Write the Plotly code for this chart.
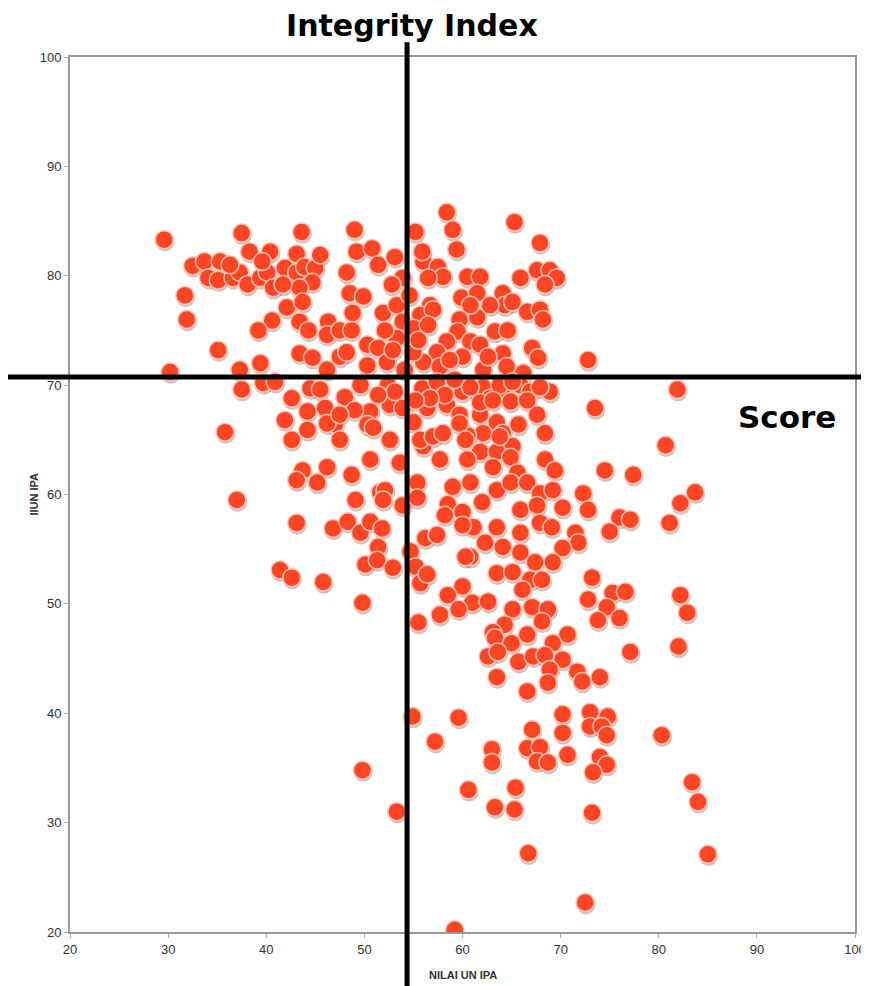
import plotly.graph_objects as go

# NILAI UN IPA (x) and IIUN IPA (y)
nilai_un_ipa = [
    29.6, 37.5, 43.6, 49.0, 38.3, 40.4, 43.1, 32.5, 33.7, 35.3, 34.1, 35.1, 36.6, 37.3, 38.1, 39.4,
    40.1, 40.7, 41.9, 43.1, 43.9, 45.0, 44.7, 43.4, 49.2, 50.8, 48.2, 51.4, 53.1, 31.7, 31.9, 42.1,
    43.7, 48.5, 49.9, 48.8, 51.9, 40.6, 39.2, 43.4, 44.3, 46.3, 46.2, 47.5, 48.7, 53.3, 53.9, 35.1,
    43.4, 44.7, 47.5, 48.2, 50.3, 51.4, 50.3, 52.3, 53.3, 46.2, 39.4, 30.2, 37.3, 37.5, 39.7, 40.9,
    42.6, 44.5, 44.2, 46.0, 48.0, 41.9, 47.0, 50.6, 52.6, 50.3, 52.4, 53.9,
    58.4, 65.3, 55.2, 59.0, 59.4, 67.9, 56.0, 55.9, 57.5, 58.0, 56.5, 60.5, 61.8, 65.9, 67.6, 68.9,
    69.6, 68.4, 59.9, 61.5, 64.1, 64.3, 65.1, 66.6, 67.9, 68.2, 56.7, 55.7, 57.0, 59.7, 61.5, 59.5,
    58.4, 60.8, 61.8, 63.3, 64.6, 64.1, 67.1, 67.7, 72.8, 60.0, 57.4, 56.0, 57.7, 62.1, 64.5, 66.2,
    55.0, 55.0, 54.6, 53.9, 55.9, 57.4, 60.0, 62.1, 62.8, 64.1, 65.9, 66.9, 68.9, 67.6, 65.7, 73.5,
    81.9, 58.4, 59.7, 61.8, 63.5, 56.4, 55.0, 60.8, 63.8, 65.1, 67.9, 61.8, 63.1, 64.9, 66.6, 64.1,
    62.1, 60.5, 68.4, 65.1, 61.8, 63.5, 60.5, 63.8, 80.7, 74.5, 77.4, 83.7, 82.2, 81.1, 72.3, 72.8,
    76.0, 77.1, 75.0, 71.5, 71.8, 70.2, 69.2, 73.2, 72.8, 75.3, 76.6, 74.7, 76.0, 73.8, 82.2, 82.9,
    68.4, 69.4, 64.9, 65.6, 63.1, 60.8, 62.0, 63.5, 64.9, 66.6, 67.9, 69.2, 70.2, 65.9, 67.6, 67.9,
    69.1, 65.9, 61.1, 62.3, 63.5, 64.1, 65.9, 67.4, 60.8, 63.5, 65.1, 66.9, 66.1, 68.1, 61.0, 62.6,
    65.1, 67.1, 68.7, 68.1, 64.3, 63.1, 66.6, 70.7, 60.0, 55.5, 63.3, 65.0, 69.2, 62.6, 63.6, 65.7,
    67.2, 68.4, 70.2, 68.9, 68.7, 71.7, 72.2, 74.0, 63.5, 66.6, 77.1, 82.0, 54.9, 59.6, 57.2, 63.0,
    63.0, 67.1, 66.6, 67.9, 67.6, 68.7, 70.2, 70.2, 70.7, 73.0, 73.0, 74.8, 74.2, 74.7, 74.0, 74.7,
    73.3, 80.3, 49.8, 60.6, 65.4, 63.3, 65.3, 73.2, 83.4, 84.0, 53.3, 66.7, 85.0, 72.5, 59.2,
    35.8, 44.2, 46.2, 42.6, 47.5, 50.9, 52.6, 50.6, 53.6, 43.7, 43.1, 45.2, 46.2, 48.7, 51.6, 52.1,
    51.9, 49.1, 53.9, 55.4, 55.4, 37.0, 43.1, 46.8, 48.3, 49.6, 50.6, 51.8, 51.4, 50.1, 51.3, 52.9,
    54.7, 55.2, 56.2, 57.4, 55.7, 56.4, 41.4, 42.6, 45.8, 49.8, 57.7, 58.5, 59.6, 59.0, 58.5, 58.2,
    60.0, 60.0, 60.3, 57.7, 56.0, 55.7, 57.0, 58.0, 59.7, 60.3,
    52.8, 52.1, 52.9, 54.1, 55.5, 56.5, 58.7, 59.2, 58.2, 56.7, 55.2, 53.1, 51.4, 49.6, 49.0, 47.5,
    45.5, 62.6, 60.8, 62.8, 39.6, 41.7, 36.3, 45.5,
]

iiun_ipa = [
    83.3, 83.9, 84.0, 84.2, 82.2, 82.2, 82.0, 80.9, 81.3, 81.3, 79.8, 79.6, 79.8, 80.3, 79.2, 79.8,
    80.3, 78.9, 80.7, 80.3, 80.8, 80.7, 79.4, 78.9, 82.2, 82.5, 80.3, 81.0, 81.7, 78.2, 76.0, 77.1,
    77.6, 78.4, 78.1, 76.6, 76.6, 75.9, 75.0, 75.8, 75.0, 75.8, 74.6, 75.0, 75.0, 77.3, 75.8, 73.2,
    72.9, 72.5, 72.6, 73.0, 73.7, 73.4, 71.8, 72.1, 74.3, 71.4, 72.0, 71.2, 71.4, 69.6, 70.2, 70.3,
    68.8, 69.7, 67.6, 67.9, 68.9, 66.8, 66.4, 67.6, 68.2, 66.4, 70.0, 67.9,
    85.8, 84.9, 84.0, 84.2, 82.4, 83.0, 81.3, 82.2, 80.8, 79.9, 79.8, 79.9, 79.9, 79.8, 80.5, 80.5,
    79.8, 79.2, 78.0, 78.4, 78.4, 77.3, 77.6, 76.7, 76.9, 76.0, 77.3, 76.4, 76.9, 76.0, 76.2, 74.9,
    74.0, 74.0, 73.7, 74.9, 75.0, 72.9, 73.4, 72.5, 72.3, 72.6, 73.0, 72.1, 71.7, 71.4, 71.7, 71.1,
    73.0, 75.2, 78.2, 79.8, 69.7, 70.3, 69.4, 69.8, 68.8, 69.7, 70.0, 69.4, 69.4, 67.3, 66.4, 67.9,
    69.6, 68.2, 67.3, 67.3, 66.6, 67.9, 66.6, 69.8, 70.0, 70.3, 69.8, 68.4, 68.6, 68.5, 68.6, 65.6,
    65.6, 65.4, 65.6, 64.4, 63.9, 63.9, 63.2, 65.3, 64.5, 62.2, 61.8, 60.2, 59.2, 57.4, 60.1, 58.6,
    57.9, 57.7, 56.6, 56.5, 55.6, 55.1, 53.8, 52.4, 50.4, 51.0, 51.1, 49.7, 48.7, 48.5, 50.8, 49.2,
    63.2, 62.2, 63.4, 62.0, 62.5, 61.1, 59.3, 60.4, 61.1, 61.1, 60.1, 60.4, 58.8, 58.6, 59.0, 57.4,
    57.0, 56.5, 57.0, 55.6, 57.0, 55.2, 54.7, 53.8, 54.3, 52.8, 52.9, 52.2, 51.3, 52.2, 50.1, 50.2,
    49.5, 49.7, 49.5, 48.4, 48.1, 47.4, 47.2, 47.2, 51.6, 48.3, 46.9, 46.4, 46.4, 45.2, 45.6, 44.7,
    45.2, 45.3, 44.9, 44.0, 42.8, 43.8, 42.9, 43.3, 43.3, 42.0, 45.6, 46.1, 39.7, 39.6, 37.4, 36.7,
    35.5, 38.5, 36.8, 36.9, 35.6, 35.5, 39.9, 38.2, 36.2, 40.1, 38.8, 39.7, 38.8, 38.0, 36.0, 35.3,
    34.6, 38.0, 34.8, 33.0, 33.2, 31.4, 31.2, 30.9, 33.7, 31.9, 31.0, 27.2, 27.1, 22.7, 20.2,
    65.7, 65.9, 66.5, 65.0, 65.0, 66.1, 65.0, 63.2, 62.9, 62.2, 61.3, 61.1, 62.5, 61.8, 60.2, 60.4,
    59.5, 59.5, 59.0, 61.1, 59.7, 59.5, 57.4, 56.9, 57.5, 56.5, 57.5, 56.9, 55.2, 53.6, 54.0, 53.3,
    54.8, 53.4, 56.0, 56.3, 51.9, 52.7, 53.1, 52.4, 52.0, 50.1, 49.0, 50.8, 49.5, 60.7, 59.1, 58.1,
    58.4, 57.2, 54.3, 63.2, 64.4, 65.0, 65.3, 65.6, 66.5, 65.0,
    79.2, 75.0, 73.2, 71.4, 74.1, 75.5, 72.3, 70.5, 69.1, 68.8, 68.6, 69.4, 69.1, 70.0, 67.7, 67.3,
    69.6, 72.6, 77.3, 77.3, 81.3, 79.2, 81.0, 81.9,
]

# Reference lines (quadrant split) and axis ticks
x_split = 54.35
y_split = 70.75
x_ticks = [20, 30, 40, 50, 60, 70, 80, 90, 100]
y_ticks = [20, 30, 40, 50, 60, 70, 80, 90, 100]

shadow_y = [v - 0.2 for v in iiun_ipa]
shadow_x = [v + 0.07 for v in nilai_un_ipa]

fig = go.Figure()
fig.add_trace(go.Scatter(
    x=shadow_x, y=shadow_y, mode="markers", hoverinfo="skip",
    marker=dict(size=19, color="rgba(70,70,70,0.3)", line=dict(width=0)),
    showlegend=False,
))
fig.add_trace(go.Scatter(
    x=nilai_un_ipa, y=iiun_ipa, mode="markers",
    marker=dict(size=18, color="#ff4524", line=dict(width=1.5, color="#ffc4b4")),
    showlegend=False,
))

fig.add_shape(type="line", xref="x", yref="paper", x0=x_split, x1=x_split, y0=-0.08, y1=1.017,
              line=dict(color="black", width=5))
fig.add_shape(type="line", xref="paper", yref="y", x0=-0.1, x1=1.04, y0=y_split, y1=y_split,
              line=dict(color="black", width=5))

fig.add_annotation(text="<b>Integrity Index</b>", xref="paper", yref="paper", x=0.436, y=1.036,
                   yanchor="middle", xanchor="center", showarrow=False,
                   font=dict(family="DejaVu Sans", size=30, color="black"))
fig.add_annotation(text="<b>Score</b>", xref="paper", yref="paper", x=0.914, y=0.589,
                   yanchor="middle", xanchor="center", showarrow=False,
                   font=dict(family="DejaVu Sans", size=31, color="black"))

title_font = dict(family="Liberation Sans, Arial", size=11, color="#333333")
fig.add_annotation(text="<b>NILAI UN IPA</b>", xref="paper", yref="paper", x=0.5, y=-0.049,
                   yanchor="middle", xanchor="center", showarrow=False, font=title_font)
fig.add_annotation(text="<b>IIUN IPA</b>", xref="paper", yref="paper", x=-0.047, y=0.5,
                   yanchor="middle", xanchor="center", showarrow=False, textangle=-90,
                   font=title_font)

axis_common = dict(
    showgrid=False, zeroline=False, showline=True, linecolor="#999999", linewidth=2,
    mirror=True, ticks="outside", ticklen=4, tickcolor="#aaaaaa", tickwidth=1,
    automargin=False,
    tickfont=dict(family="Liberation Sans, Arial", size=13, color="#333333"),
)
fig.update_xaxes(range=[20, 100], tickvals=x_ticks, **axis_common)
fig.update_yaxes(range=[20, 100], tickvals=y_ticks, **axis_common)

fig.update_layout(
    width=869, height=986,
    margin=dict(l=62, r=22, t=49, b=62),
    paper_bgcolor="white", plot_bgcolor="white",
)

fig.write_html("out.html")
